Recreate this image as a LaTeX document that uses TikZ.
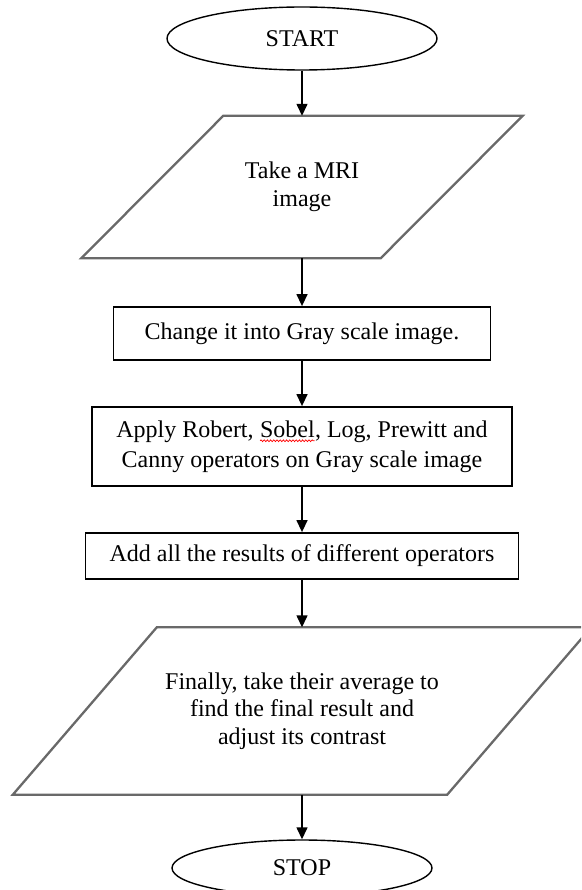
\documentclass[tikz,border=0pt]{standalone}
\usepackage{fontspec}
\setmainfont{Liberation Serif}
\usetikzlibrary{shapes.geometric,arrows.meta,decorations.pathmorphing}

\definecolor{ioedge}{RGB}{105,105,105}

% red wavy spell-check underline under a word
\newcommand\spellmark[1]{\tikz[baseline]{%
  \node[draw=none, fill=none, rectangle, minimum width=0pt, minimum height=0pt,
        inner sep=0pt, outer sep=0pt, anchor=base] (w) {#1};%
  \draw[red,line width=0.7pt,decorate,decoration={snake,amplitude=0.9pt,segment length=3.2pt}]
    ([yshift=-3.5pt]w.base west) -- ([yshift=-3.5pt]w.base east);}}

\tikzset{
  lbl/.style={font=\fontsize{24}{27.5}\selectfont, align=center, inner sep=0pt},
  terminal/.style={lbl, ellipse, draw=black, line width=1.4pt},
  process/.style={lbl, rectangle, draw=black, line width=1.8pt},
  iobox/.style={lbl},
  ioline/.style={draw=ioedge, line width=2.3pt, line join=miter},
  flow/.style={-{Triangle[length=12pt,width=11pt]}, line width=1.4pt, draw=black},
}

\begin{document}
\begin{tikzpicture}[x=1pt,y=-1pt]
  \useasboundingbox (0,0) rectangle (581,890);
  \clip (0,0) rectangle (581,890);

  % terminals, steps and input/output blocks
  \node[terminal, minimum width=270, minimum height=63] (start) at (302,38.5) {START};
  \node[iobox, minimum width=299, minimum height=142] (p1) at (302,187) {Take a MRI\\image};
  \node[process, minimum width=377, minimum height=53] (gray) at (302,333.5) {Change it into Gray scale image.};
  \node[process, minimum width=420, minimum height=79, font=\fontsize{24}{30}\selectfont] (ops) at (302,446.5)
    {Apply Robert, \spellmark{Sobel}, Log, Prewitt and\\Canny operators on Gray scale image};
  \node[process, minimum width=433, minimum height=46] (add) at (302,556) {Add all the results of different operators};
  \node[iobox, minimum width=434, minimum height=167] (p2) at (302,711)
    {Finally, take their average to\\find the final result and\\adjust its contrast};
  \node[terminal, minimum width=260, minimum height=56] (stop) at (302,868) {STOP};

  % slanted outlines of the input/output blocks
  \draw[ioline] ([xshift=71pt]p1.north west) -- ([xshift=71pt]p1.north east)
    -- ([xshift=-71pt]p1.south east) -- ([xshift=-71pt]p1.south west) -- cycle;
  \draw[ioline] ([xshift=72pt]p2.north west) -- ([xshift=72pt]p2.north east)
    -- ([xshift=-72pt]p2.south east) -- ([xshift=-72pt]p2.south west) -- cycle;

  % flow arrows
  \draw[flow] (start.south) -- (p1.north);
  \draw[flow] (p1.south) -- (gray.north);
  \draw[flow] (gray.south) -- (ops.north);
  \draw[flow] (ops.south) -- (add.north);
  \draw[flow] (add.south) -- (p2.north);
  \draw[flow] (p2.south) -- (stop.north);
\end{tikzpicture}
\end{document}
